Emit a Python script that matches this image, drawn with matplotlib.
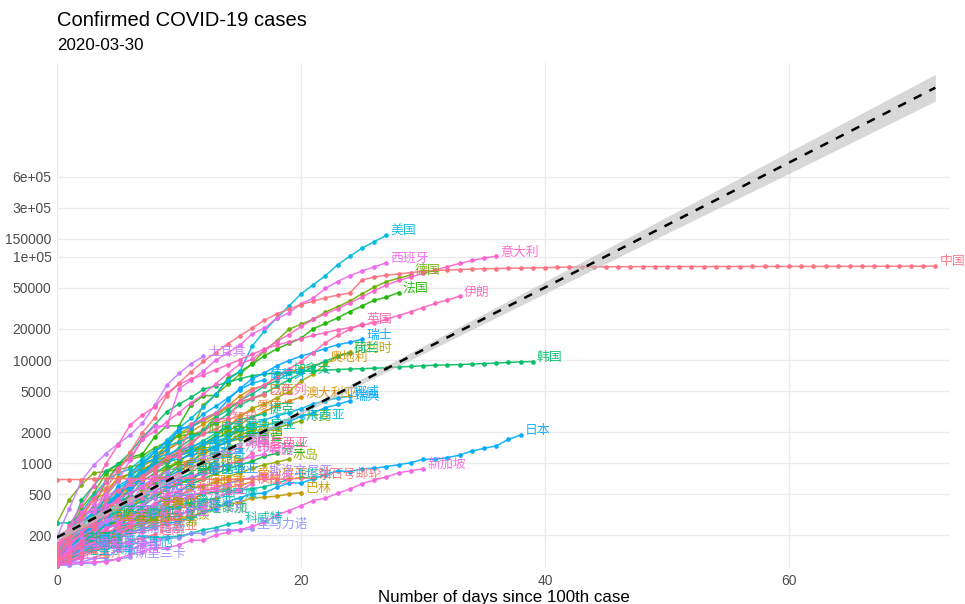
import numpy as np
import matplotlib.pyplot as plt

# cumulative confirmed cases, one value per day since the 100th case (up to 2020-03-30)
cases_china = [121, 198, 291, 440, 571, 830, 1287, 1975, 2744, 4515, 5974, 7711, 9692, 11791, 14380,
               17205, 20438, 24324, 28018, 31161, 34546, 37198, 40171, 42638, 44653, 59804, 63851,
               66492, 68500, 70548, 72436, 74185, 74576, 75465, 76288, 76936, 77150, 77658, 78064,
               78497, 78824, 79251, 79824, 80026, 80151, 80270, 80409, 80552, 80651, 80695, 80735,
               80754, 80778, 80793, 80813, 80824, 80844, 80860, 80881, 80894, 80928, 80967, 81008,
               81054, 81093, 81171, 81218, 81285, 81340, 81394, 81439, 81470, 81518]
cases_italy = [155, 229, 322, 453, 655, 888, 1128, 1694, 2036, 2502, 3089, 3858, 4636, 5883, 7375,
               9172, 10149, 12462, 15113, 17660, 21157, 24747, 27980, 31506, 35713, 41035, 47021,
               53578, 59138, 63927, 69176, 74386, 80589, 86498, 92472, 97689, 101739]
cases_us = [118, 149, 217, 262, 402, 518, 583, 959, 1281, 1663, 2179, 2727, 3499, 4632, 6421, 7786,
            13680, 19101, 25493, 33276, 43847, 53740, 65778, 83836, 101657, 121478, 140886, 161807]
cases_spain = [165, 222, 259, 400, 500, 673, 1073, 1695, 2277, 2277, 5232, 6391, 7798, 9942, 11748,
               13910, 17963, 20410, 25374, 28603, 35136, 39885, 49515, 57786, 65719, 73235, 80110, 87956]
cases_germany = [130, 159, 196, 262, 482, 670, 799, 1040, 1176, 1457, 1908, 2078, 3675, 4585, 5795,
                 7272, 9257, 12327, 15320, 19848, 22213, 24873, 29056, 32986, 37323, 43938, 50871,
                 57695, 62095, 66885]
cases_france = [191, 204, 288, 380, 656, 957, 1136, 1219, 1794, 2293, 2293, 3681, 4496, 4532, 6683,
                7715, 9124, 10970, 12758, 14463, 16243, 20123, 22622, 25600, 29551, 33402, 38105,
                40708, 45170]
cases_iran = [139, 245, 388, 593, 978, 1501, 2336, 2922, 3513, 4747, 5823, 6566, 7161, 8042, 9000,
              10075, 11364, 12729, 13938, 14991, 16169, 17361, 18407, 19644, 20610, 21638, 23049,
              24811, 27017, 29406, 32332, 35408, 38309, 41495]
cases_uk = [116, 164, 207, 274, 322, 384, 459, 459, 802, 1144, 1145, 1551, 1960, 2642, 2716, 4014,
            5067, 5745, 6726, 8164, 9640, 11812, 14745, 17312, 19780, 22453]
cases_switzerland = [114, 214, 268, 337, 374, 491, 652, 652, 1139, 1359, 2200, 2200, 2700, 3028, 4075,
                     5294, 6575, 7474, 8795, 9877, 10897, 11811, 12928, 14076, 14829, 15922]
cases_belgium = [109, 169, 200, 239, 267, 314, 314, 559, 689, 886, 1058, 1243, 1486, 1795, 2257, 2815,
                 3401, 3743, 4269, 4937, 6235, 7284, 9134, 10836, 11899]
cases_netherlands = [128, 188, 265, 321, 382, 503, 503, 804, 959, 1135, 1413, 1705, 2051, 2460, 2994,
                     3631, 4204, 4749, 5560, 6412, 7431, 8603, 9762, 10866, 11750]
cases_austria = [104, 131, 182, 246, 302, 504, 655, 860, 1018, 1332, 1646, 2013, 2388, 2814, 3582,
                 4474, 5283, 5588, 6909, 7657, 8271, 8788, 9618]
cases_korea = [104, 204, 433, 602, 833, 977, 1261, 1766, 2337, 3150, 3736, 4335, 5186, 5621, 6088,
               6593, 7041, 7314, 7478, 7513, 7755, 7869, 7979, 8086, 8162, 8236, 8320, 8413, 8565,
               8652, 8799, 8897, 8961, 9037, 9137, 9241, 9332, 9478, 9583, 9661]
cases_turkey = [191, 359, 670, 947, 1236, 1529, 1872, 2433, 3629, 5698, 7402, 9217, 10827]
cases_portugal = [112, 169, 245, 331, 448, 448, 785, 1020, 1280, 1600, 2060, 2362, 2995, 3544, 4268,
                  5170, 5962, 6408]
cases_canada = [108, 117, 193, 198, 252, 415, 478, 657, 800, 943, 1277, 1469, 2088, 2790, 3251, 4042,
                4682, 5576, 6280, 7398]
cases_brazil = [151, 151, 162, 200, 321, 372, 621, 793, 1021, 1546, 1924, 2247, 2554, 2985, 3417,
                3904, 4256, 4579]
cases_israel = [126, 178, 250, 255, 337, 433, 677, 705, 883, 1071, 1238, 2369, 2693, 3035, 3619,
                3938, 4247, 4695]
cases_australia = [107, 128, 128, 200, 250, 297, 377, 452, 568, 681, 791, 1071, 1549, 1682, 2044,
                   2364, 2810, 3143, 3640, 3984, 4361]
cases_norway = [108, 147, 176, 205, 400, 598, 702, 996, 1090, 1221, 1333, 1463, 1550, 1746, 1914,
                2118, 2385, 2621, 2863, 3084, 3369, 3755, 4015, 4284, 4445]
cases_sweden = [101, 161, 203, 248, 355, 500, 599, 814, 961, 1022, 1103, 1190, 1279, 1439, 1639,
                1763, 1934, 2046, 2286, 2526, 2840, 3069, 3447, 3700, 4028]
cases_czechia = [141, 189, 253, 298, 396, 464, 694, 833, 995, 1120, 1236, 1394, 1654, 1925, 2279,
                 2631, 2817, 3001]
cases_denmark = [262, 442, 615, 801, 827, 864, 914, 977, 1057, 1151, 1255, 1326, 1395, 1450, 1591,
                 1724, 1877, 2023, 2200, 2366, 2564]
cases_malaysia = [129, 149, 197, 238, 428, 566, 673, 790, 900, 1030, 1183, 1306, 1518, 1624, 1796,
                  2031, 2161, 2320, 2470, 2626]
cases_ireland = [129, 169, 223, 292, 557, 683, 785, 906, 1125, 1329, 1564, 1819, 2121, 2415, 2615,
                 2910, 3235]
cases_chile = [155, 201, 238, 238, 434, 537, 632, 746, 922, 1142, 1306, 1610, 1909, 2139, 2449]
cases_ecuador = [111, 199, 367, 506, 789, 981, 1082, 1173, 1403, 1595, 1823, 1924, 1962]
cases_poland = [103, 119, 177, 238, 251, 355, 425, 536, 634, 749, 901, 1051, 1221, 1389, 1638, 1862, 2055]
cases_romania = [123, 131, 158, 184, 260, 277, 367, 433, 576, 762, 906, 1029, 1292, 1452, 1815, 2109]
cases_luxembourg = [140, 203, 335, 484, 670, 798, 875, 1099, 1333, 1453, 1605, 1831, 1950, 1988]
cases_pakistan = [136, 236, 299, 454, 501, 730, 776, 875, 972, 1063, 1201, 1373, 1495, 1597, 1717]
cases_thailand = [114, 147, 177, 212, 272, 322, 411, 599, 721, 827, 934, 1045, 1136, 1245, 1388, 1524]
cases_saudi = [103, 103, 133, 171, 171, 274, 344, 392, 511, 562, 767, 900, 1012, 1104, 1203, 1299]
cases_finland = [109, 156, 155, 225, 244, 277, 321, 336, 400, 450, 523, 626, 700, 792, 880, 958,
                 1041, 1167, 1240]
cases_indonesia = [117, 134, 172, 227, 311, 369, 450, 514, 579, 686, 790, 893, 1046, 1155, 1285, 1414]
cases_greece = [190, 228, 331, 331, 387, 418, 418, 495, 530, 624, 695, 743, 821, 892, 966, 1061, 1156, 1212]
cases_iceland = [103, 117, 134, 156, 171, 180, 220, 250, 330, 409, 473, 568, 588, 648, 737, 802,
                 890, 963, 1020, 1086]
cases_india = [102, 113, 119, 142, 156, 194, 244, 330, 396, 499, 536, 657, 727, 887, 987, 1024, 1251]
cases_philippines = [111, 140, 142, 187, 202, 230, 307, 380, 462, 552, 636, 707, 803, 1075, 1418, 1546]
cases_south_africa = [116, 150, 202, 240, 274, 402, 554, 709, 927, 1170, 1187, 1280, 1326]
cases_mexico = [118, 164, 203, 251, 316, 367, 405, 475, 585, 717, 848, 993, 1094]
cases_peru = [117, 145, 234, 234, 318, 363, 395, 416, 480, 580, 635, 671, 852, 950]
cases_panama = [137, 200, 313, 345, 345, 443, 558, 674, 786, 901, 989, 1075]
cases_argentina = [128, 158, 266, 301, 387, 387, 502, 589, 690, 745, 820]
cases_croatia = [105, 128, 206, 254, 315, 382, 442, 495, 586, 657, 713, 790]
cases_serbia = [103, 135, 135, 222, 249, 249, 303, 384, 384, 457, 659, 741, 785]
cases_slovenia = [141, 181, 219, 253, 275, 275, 286, 341, 383, 414, 442, 480, 528, 562, 632, 684, 730, 756]
cases_estonia = [115, 171, 205, 225, 258, 267, 283, 306, 326, 352, 369, 404, 538, 575, 645, 679, 715]
cases_uae = [113, 140, 140, 153, 153, 198, 248, 333, 333, 405, 468, 570, 611]
cases_egypt = [110, 150, 196, 196, 196, 196, 285, 294, 327, 366, 402, 456, 495, 536, 576, 609, 656]
cases_iraq = [110, 116, 124, 154, 164, 192, 208, 214, 233, 266, 316, 346, 382, 458, 506, 547, 630]
cases_lebanon = [120, 133, 157, 163, 187, 248, 267, 318, 333, 368, 391, 412, 438, 446]
cases_colombia = [102, 128, 196, 231, 277, 378, 470, 491, 539, 608, 702, 798]
cases_dominican = [112, 202, 245, 312, 392, 488, 581, 719, 859]
cases_armenia = [115, 136, 160, 194, 235, 249, 265, 290, 329, 407, 424, 482]
cases_kazakhstan = [111, 150, 228, 284, 302]
cases_qatar = [262, 262, 320, 337, 401, 439, 439, 452, 460, 470, 481, 494, 501, 526, 537, 549, 562,
               590, 634, 693]
cases_sri_lanka = [102, 102, 106, 106, 113, 117, 122]
cases_new_zealand = [102, 155, 205, 283, 368, 451, 514, 589]
cases_vietnam = [113, 123, 134, 141, 153, 163, 174, 188, 203]
cases_russia = [114, 147, 199, 253, 306, 367, 438, 495, 658, 840, 1036, 1264, 1534, 1836]
cases_japan = [105, 122, 147, 159, 170, 189, 214, 228, 241, 256, 274, 293, 331, 360, 420, 461, 502,
               511, 581, 639, 639, 701, 773, 839, 825, 878, 889, 924, 963, 1007, 1086, 1086, 1128,
               1193, 1307, 1387, 1468, 1693, 1866]
cases_singapore = [102, 106, 108, 110, 110, 117, 130, 138, 150, 150, 160, 178, 178, 200, 212, 226,
                   243, 266, 313, 345, 385, 432, 455, 509, 558, 631, 683, 732, 802, 844, 879]
cases_diamond = [691, 691, 691, 705, 705, 705, 705, 705, 705, 706, 706, 706, 696, 696, 696, 696, 696,
                 696, 696, 696, 712, 712]
cases_bahrain = [110, 195, 195, 210, 211, 214, 214, 228, 256, 278, 285, 305, 334, 377, 392, 419, 458,
                 466, 476, 499, 515]
cases_kuwait = [112, 123, 130, 142, 148, 159, 176, 188, 189, 191, 195, 208, 225, 235, 255, 266]
cases_san_marino = [101, 109, 109, 119, 119, 144, 144, 160, 175, 187, 187, 208, 208, 223, 224, 224, 230]
cases_ukraine = [145, 196, 310, 356, 475, 548]
cases_morocco = [115, 143, 170, 225, 275, 345, 402, 479, 556]
cases_algeria = [139, 201, 230, 264, 302, 367, 409, 454, 511]
cases_tunisia = [114, 173, 197, 227, 278, 312, 312]
cases_bulgaria = [163, 187, 201, 218, 242, 264, 293, 331, 346, 359]
cases_hungary = [103, 131, 167, 187, 226, 261, 300, 343, 408]
cases_lithuania = [105, 143, 179, 209, 274, 299, 358, 394, 460]
cases_latvia = [111, 124, 139, 180, 197, 221, 244, 280, 305, 347, 376]
cases_cyprus = [116, 124, 132, 146, 162, 179, 214]
cases_andorra = [113, 133, 164, 188, 224, 267, 308, 334, 370]
cases_albania = [123, 146, 174, 186, 197, 212, 223]
cases_jordan = [112, 127, 154, 172, 212, 235, 246, 259, 268]
cases_costa_rica = [113, 117, 134, 158, 177, 201, 231, 263, 295, 314, 330]
cases_uruguay = [110, 135, 158, 162, 189, 217, 238, 274, 304, 310]
cases_bosnia = [126, 136, 166, 176, 191, 237, 258, 323, 368]
cases_macedonia = [114, 136, 148, 177, 201, 219, 241, 259, 285]
cases_moldova = [109, 125, 149, 177, 199, 231, 263, 298]
cases_burkina = [114, 146, 152, 180, 207, 222, 246]
cases_azerbaijan = [122, 165, 182, 209, 273]
cases_malta = [107, 129, 134, 139, 149, 151, 156]
cases_uzbekistan = [104, 144, 149]
cases_cuba = [119, 139, 170]
cases_oman = [131, 152, 152, 167]
cases_venezuela = [106, 107, 119, 119, 135]
cases_ivory_coast = [101, 140, 165]
cases_ghana = [137, 141, 152, 152]
cases_senegal = [119, 130, 142, 162]
cases_afghanistan = [110, 110, 120]
cases_mauritius = [102, 107, 128]
cases_slovakia = [105, 123, 137, 178, 185, 204, 216, 226, 269, 292, 314, 336]

country_names = ['中国', '意大利', '美国', '西班牙', '德国', '法国', '伊朗', '英国', '瑞士', '比利时',
                 '荷兰', '奥地利', '韩国', '土耳其', '葡萄牙', '加拿大', '巴西', '以色列', '澳大利亚',
                 '挪威', '瑞典', '捷克', '丹麦', '马来西亚', '爱尔兰', '智利', '厄瓜多尔', '波兰',
                 '罗马尼亚', '卢森堡', '巴基斯坦', '泰国', '沙特', '芬兰', '印度尼西亚', '希腊', '冰岛',
                 '印度', '菲律宾', '南非', '墨西哥', '秘鲁', '巴拿马', '阿根廷', '克罗地亚', '塞尔维亚',
                 '斯洛文尼亚', '爱沙尼亚', '阿联酋', '埃及', '伊拉克', '黎巴嫩', '哥伦比亚', '多米尼加',
                 '亚美尼亚', '哈萨克斯坦', '卡塔尔', '斯里兰卡', '新西兰', '越南', '俄罗斯', '日本',
                 '新加坡', '钻石号邮轮', '巴林', '科威特', '圣马力诺', '乌克兰', '摩洛哥', '阿尔及利亚',
                 '突尼斯', '保加利亚', '匈牙利', '立陶宛', '拉脱维亚', '塞浦路斯', '安道尔', '阿尔巴尼亚',
                 '约旦', '哥斯达黎加', '乌拉圭', '波黑', '北马其顿', '摩尔多瓦', '布基纳法索', '阿塞拜疆',
                 '马耳他', '乌兹别克斯坦', '古巴', '阿曼', '委内瑞拉', '科特迪瓦', '加纳', '塞内加尔',
                 '阿富汗', '毛里求斯', '斯洛伐克']
# pinyin keys: the colour order follows the sorted names
country_keys = ['zhongguo', 'yidali', 'meiguo', 'xibanya', 'deguo', 'faguo', 'yilang', 'yingguo',
                'ruishi', 'bilishi', 'helan', 'aodili', 'hanguo', 'tuerqi', 'putaoya', 'jianada',
                'baxi', 'yiselie', 'aodaliya', 'nuowei', 'ruidian', 'jieke', 'danmai', 'malaixiya',
                'aierlan', 'zhili', 'eguaduoer', 'bolan', 'luomaniya', 'lusenbao', 'bajisitan',
                'taiguo', 'shate', 'fenlan', 'yindunixiya', 'xila', 'bingdao', 'yindu', 'feilvbin',
                'nanfei', 'moxige', 'bilu', 'banama', 'agenting', 'keluodiya', 'saierweiya',
                'siluowenniya', 'aishaniya', 'alianqiu', 'aiji', 'yilake', 'libanen', 'gelunbiya',
                'duominijia', 'yameiniya', 'hasakesitan', 'kataer', 'sililanka', 'xinxilan', 'yuenan',
                'eluosi', 'riben', 'xinjiapo', 'zuanshihaoyoulun', 'balin', 'keweite', 'shengmalinuo',
                'wukelan', 'moluoge', 'aerjiliya', 'tunisi', 'baojialiya', 'xiongyali', 'taowan',
                'latuoweiya', 'saipulusi', 'andaoer', 'aerbaniya', 'yuedan', 'gesidalijia', 'wulagui',
                'bohei', 'beimaqidun', 'moerduowa', 'bujinafasuo', 'asaibaijiang', 'maerta',
                'wuzibiekesitan', 'guba', 'aman', 'weineiruila', 'ketediwa', 'jiana', 'saineijiaer',
                'afuhan', 'maoliqiusi', 'siluofake']
country_cases = [cases_china, cases_italy, cases_us, cases_spain, cases_germany, cases_france,
                 cases_iran, cases_uk, cases_switzerland, cases_belgium, cases_netherlands,
                 cases_austria, cases_korea, cases_turkey, cases_portugal, cases_canada, cases_brazil,
                 cases_israel, cases_australia, cases_norway, cases_sweden, cases_czechia,
                 cases_denmark, cases_malaysia, cases_ireland, cases_chile, cases_ecuador,
                 cases_poland, cases_romania, cases_luxembourg, cases_pakistan, cases_thailand,
                 cases_saudi, cases_finland, cases_indonesia, cases_greece, cases_iceland,
                 cases_india, cases_philippines, cases_south_africa, cases_mexico, cases_peru,
                 cases_panama, cases_argentina, cases_croatia, cases_serbia, cases_slovenia,
                 cases_estonia, cases_uae, cases_egypt, cases_iraq, cases_lebanon, cases_colombia,
                 cases_dominican, cases_armenia, cases_kazakhstan, cases_qatar, cases_sri_lanka,
                 cases_new_zealand, cases_vietnam, cases_russia, cases_japan, cases_singapore,
                 cases_diamond, cases_bahrain, cases_kuwait, cases_san_marino, cases_ukraine,
                 cases_morocco, cases_algeria, cases_tunisia, cases_bulgaria, cases_hungary,
                 cases_lithuania, cases_latvia, cases_cyprus, cases_andorra, cases_albania,
                 cases_jordan, cases_costa_rica, cases_uruguay, cases_bosnia, cases_macedonia,
                 cases_moldova, cases_burkina, cases_azerbaijan, cases_malta, cases_uzbekistan,
                 cases_cuba, cases_oman, cases_venezuela, cases_ivory_coast, cases_ghana,
                 cases_senegal, cases_afghanistan, cases_mauritius, cases_slovakia]

# fitted trend (log-linear) and its confidence band
trend_days = [0, 12, 24, 36, 48, 60, 72]
trend_fit = [190, 1016, 5420, 28970, 154600, 824000, 4400000]
trend_low = [174, 982, 5117, 25820, 130000, 647000, 3260000]
trend_high = [209, 1052, 5741, 32510, 183600, 1050000, 5930000]

y_ticks = [200, 500, 1000, 2000, 5000, 10000, 20000, 50000, 100000, 150000, 300000, 600000]
y_labels = ['200', '500', '1000', '2000', '5000', '10000', '20000', '50000', '1e+05', '150000',
            '3e+05', '6e+05']
x_ticks = [0, 20, 40, 60]


def hue_colour(h, c=100.0, l=65.0):
    # polar LUV -> sRGB, like R's hcl()
    hr = np.deg2rad(h)
    u, v = c * np.cos(hr), c * np.sin(hr)
    xn, yn, zn = 95.047, 100.0, 108.883
    d = xn + 15 * yn + 3 * zn
    un, vn = 4 * xn / d, 9 * yn / d
    y = yn * ((l + 16) / 116) ** 3
    up = u / (13 * l) + un
    vp = v / (13 * l) + vn
    x = 9.0 * y * up / (4 * vp)
    z = -x / 3 - 5 * y + 3 * y / vp
    m = np.array([[3.240479, -1.537150, -0.498535],
                  [-0.969256, 1.875992, 0.041556],
                  [0.055648, -0.204043, 1.057311]])
    rgb = m @ (np.array([x, y, z]) / 100.0)
    rgb = np.where(rgb > 0.0031308, 1.055 * np.abs(rgb) ** (1 / 2.4) - 0.055, 12.92 * rgb)
    return tuple(np.clip(rgb, 0, 1))


order = sorted(range(len(country_names)), key=lambda i: country_keys[i])
n = len(order)
hues = np.linspace(15, 375, n + 1)[:n]

plt.rcParams['font.family'] = ['Liberation Sans', 'DejaVu Sans']
fig = plt.figure(figsize=(9.65, 6.04), dpi=100)
ax = fig.add_axes([57 / 965, 1 - 568 / 604, (950 - 57) / 965, (568 - 63) / 604])
ax.set_yscale('log')

for rank, i in enumerate(order):
    col = hue_colour(hues[rank])
    vals = country_cases[i]
    days = np.arange(len(vals))
    ax.plot(days, vals, color=col, lw=1.1, marker='o', ms=2.4, alpha=0.9, zorder=3)
    ax.annotate(country_names[i], (days[-1], vals[-1]), xytext=(3, 3), textcoords='offset points',
                ha='left', va='center', fontsize=9.3, color=col, alpha=0.9,
                family=['Noto Sans CJK SC', 'DejaVu Sans'], annotation_clip=False, zorder=4)

ax.fill_between(trend_days, trend_low, trend_high, color='#BEBEBE', alpha=0.6, lw=0, zorder=5)
ax.plot(trend_days, trend_fit, color='black', lw=1.8, ls=(0, (3.5, 3.5)), zorder=6)

ax.set_xlim(0, 73.2)
ax.set_ylim(95.7, 7.64e6)
ax.set_xticks(x_ticks)
ax.set_yticks(y_ticks)
ax.set_yticklabels(y_labels)
ax.minorticks_off()
ax.tick_params(length=0, labelsize=10, labelcolor='#4D4D4D', pad=4)
ax.grid(True, color='#EBEBEB', lw=1.0, zorder=0)
ax.set_axisbelow(True)
for s in ax.spines.values():
    s.set_visible(False)

ax.set_xlabel('Number of days since 100th case', fontsize=12.2, labelpad=2)
fig.text(57 / 965, 1 - 20 / 604, 'Confirmed COVID-19 cases', fontsize=14.5, va='center', ha='left')
fig.text(57 / 965, 1 - 45 / 604, '2020-03-30', fontsize=12.2, va='center', ha='left')

fig.savefig('out.png', dpi=100)
